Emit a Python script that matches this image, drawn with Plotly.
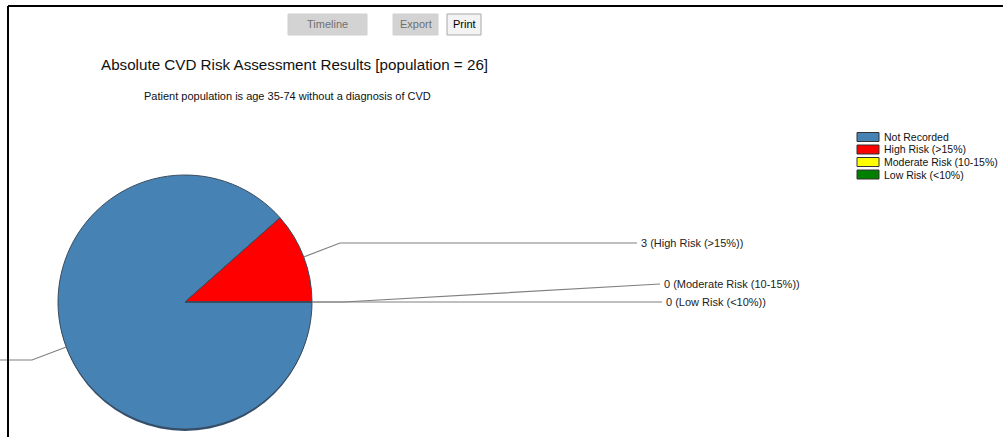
import math
import plotly.graph_objects as go

# ---- data ----
categories = ["Not Recorded", "High Risk (>15%)", "Moderate Risk (10-15%)", "Low Risk (<10%)"]
counts = [23, 3, 0, 0]
colors = ["#4682B4", "#FF0000", "#FFFF00", "#008000"]
title_text = "Absolute CVD Risk Assessment Results [population = " + str(sum(counts)) + "]"
subtitle_text = "Patient population is age 35-74 without a diagnosis of CVD"
buttons = ["Timeline", "Export", "Print"]

# ---- layout constants (pixels) ----
W, H = 1003, 437
CX, CY, R = 185, 302, 127
FONT = "Liberation Sans, Arial, sans-serif"

def px(x):
    return x / W

def py(y):
    return 1 - y / H

fig = go.Figure()
fig.add_trace(go.Pie(
    labels=categories,
    values=counts,
    marker=dict(colors=colors, line=dict(color="#3a4c5e", width=1)),
    sort=False,
    direction="clockwise",
    rotation=90,
    textinfo="none",
    hoverinfo="label+value",
    showlegend=False,
    domain=dict(x=[px(CX - R), px(CX + R)], y=[py(CY + R), py(CY - R)]),
))

shapes = []
annotations = []

# pie shadow (bottom rim)
shapes.append(dict(type="circle", xref="paper", yref="paper",
                   x0=px(CX - R + 0.5), x1=px(CX + R - 0.5),
                   y0=py(CY + R + 2), y1=py(CY - R + 2),
                   fillcolor="#34506e", line=dict(width=0), layer="below"))

# leader lines and labels computed from slice angles
total = sum(counts)
label_y = {1: 243, 2: 284, 3: 302, 0: 360}
label_x = {1: 637, 2: 660, 3: 662, 0: 0}
elbow_x = {1: 340, 2: 343, 3: 343, 0: 32}
cum = 0
for i, v in enumerate(counts):
    start = cum
    cum += v
    mid = (start + cum) / 2 / total * 2 * math.pi
    theta = -mid  # clockwise from east
    ex = CX + R * math.cos(theta)
    ey = CY - R * math.sin(theta)
    ey_el = ey if v == 0 else label_y[i]
    pts = [(ex, ey), (elbow_x[i], ey_el), (label_x[i], label_y[i])]
    path = "M {:.4f},{:.4f}".format(px(pts[0][0]), py(pts[0][1]))
    for (x, y) in pts[1:]:
        path += " L {:.4f},{:.4f}".format(px(x), py(y))
    shapes.append(dict(type="path", xref="paper", yref="paper", path=path,
                       line=dict(color="#808080", width=1.2)))
    # the Not Recorded label lies beyond the left edge of the view in the reference
    if label_x[i] > 0:
        annotations.append(dict(xref="paper", yref="paper", x=px(label_x[i] + 2), y=py(label_y[i]),
                                text="{} ({})".format(v, categories[i]), showarrow=False,
                                xanchor="left", yanchor="middle",
                                font=dict(family=FONT, size=11, color="#222222")))

# legend (manual)
for i, (cat, col) in enumerate(zip(categories, colors)):
    yc = 137 + i * 12.5
    shapes.append(dict(type="rect", xref="paper", yref="paper",
                       x0=px(857), x1=px(879), y0=py(yc + 4.5), y1=py(yc - 4.5),
                       fillcolor=col, line=dict(color="#333333", width=1)))
    annotations.append(dict(xref="paper", yref="paper", x=px(882), y=py(yc), text=cat,
                            showarrow=False, xanchor="left", yanchor="middle",
                            font=dict(family=FONT, size=10.5, color="#111111")))

# titles
annotations.append(dict(xref="paper", yref="paper", x=px(294), y=py(65), text=title_text,
                        showarrow=False, xanchor="center", yanchor="middle",
                        font=dict(family=FONT, size=15.2, color="#111111")))
annotations.append(dict(xref="paper", yref="paper", x=px(287), y=py(96), text=subtitle_text,
                        showarrow=False, xanchor="center", yanchor="middle",
                        font=dict(family=FONT, size=11, color="#111111")))

# buttons
btn_geom = [(288, 367), (393, 438), (447, 481)]
btn_fill = ["#d3d3d3", "#d3d3d3", "#f3f3f3"]
btn_line = ["#d0d0d0", "#d0d0d0", "#a8a8a8"]
btn_text = ["#707070", "#707070", "#000000"]
for b, (x0, x1), f, lc, tc in zip(buttons, btn_geom, btn_fill, btn_line, btn_text):
    shapes.append(dict(type="rect", xref="paper", yref="paper",
                       x0=px(x0), x1=px(x1), y0=py(35), y1=py(14),
                       fillcolor=f, line=dict(color=lc, width=1)))
    annotations.append(dict(xref="paper", yref="paper", x=px((x0 + x1) / 2), y=py(24.5), text=b,
                            showarrow=False, xanchor="center", yanchor="middle",
                            font=dict(family=FONT, size=11, color=tc)))

# frame border (top and left)
shapes.append(dict(type="line", xref="paper", yref="paper", x0=px(8), x1=px(W), y0=py(6), y1=py(6),
                   line=dict(color="#000000", width=2)))
shapes.append(dict(type="line", xref="paper", yref="paper", x0=px(8), x1=px(8), y0=py(6), y1=py(H),
                   line=dict(color="#000000", width=2)))

fig.update_layout(
    width=W, height=H,
    margin=dict(l=0, r=0, t=0, b=0),
    paper_bgcolor="white", plot_bgcolor="white",
    shapes=shapes, annotations=annotations,
    showlegend=False,
)

fig.write_html("out.html", config={"displayModeBar": False})
